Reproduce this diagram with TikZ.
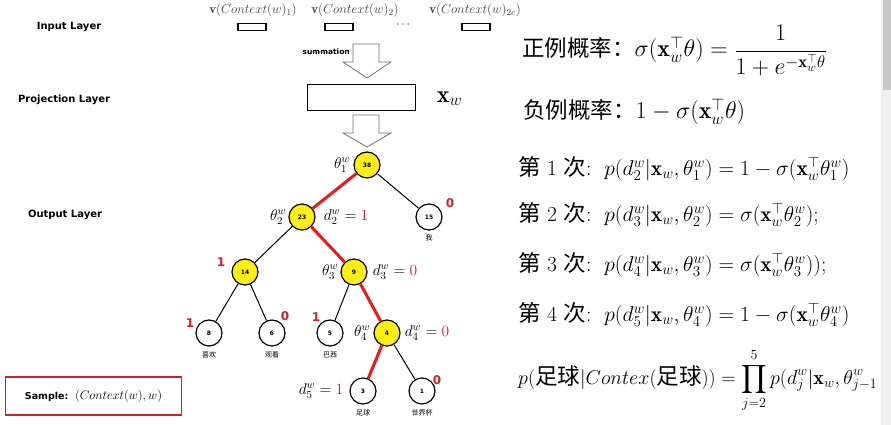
\RequirePackage{fix-cm}
\documentclass[tikz,border=0pt]{standalone}
\usepackage{amsmath,amssymb}
\usepackage{fontspec}
\setsansfont{DejaVu Sans}
\newfontfamily\cjk{Noto Sans CJK SC}
\usetikzlibrary{positioning}
\definecolor{bitred}{RGB}{200,35,45}
\definecolor{pathred}{RGB}{235,25,25}
\definecolor{nodeyellow}{RGB}{255,238,20}
\definecolor{barbg}{RGB}{240,240,240}
\definecolor{barthumb}{RGB}{200,200,200}
\tikzset{
  layer/.style={font=\sffamily\bfseries\fontsize{10}{12}\selectfont, inner sep=0pt},
  inbox/.style={draw, line width=1.6pt, minimum width=28pt, minimum height=7pt, inner sep=0pt},
  ctxlabel/.style={text=black!75, font=\fontsize{13}{15}\selectfont, inner sep=0pt},
  hollow/.style={draw=black!55, line width=0.8pt, line join=miter},
  hidden/.style={circle, draw, line width=1.2pt, fill=nodeyellow, minimum size=26pt, inner sep=0pt, font=\sffamily\bfseries\fontsize{6}{7}\selectfont},
  leaf/.style={hidden, fill=white},
  hit/.style={draw=pathred, line width=3pt},
  miss/.style={draw, line width=1pt},
  bit/.style={text=bitred, font=\sffamily\bfseries\fontsize{12}{14}\selectfont, inner sep=0pt},
  word/.style={font=\cjk\fontsize{7}{8}\selectfont, inner sep=0pt},
  tlab/.style={font=\fontsize{15.5}{17}\selectfont, inner sep=0pt},
  eq/.style={anchor=base west, font=\fontsize{21.5}{24}\selectfont, inner sep=0pt},
  bigeq/.style={eq, font=\fontsize{24}{26}\selectfont}
}
\newcommand{\zh}[1]{{\cjk\fontsize{22.5}{24}\selectfont #1}}

\begin{document}
\begin{tikzpicture}[x=1pt, y=-1pt]
    \useasboundingbox (0,0) rectangle (891,425);
    \fill[white] (0,0) rectangle (891,425);
    % scroll bar
    \fill[barbg] (881,0) rectangle (891,425);
    \fill[barthumb] (883,0) rectangle (891,90);

    % Layer names
    \node [layer] (inlayer) at (69,27) {Input Layer};
    \node [layer] (projlayer) at (64,100) {Projection Layer};
    \node [layer] (outlayer) at (65,215) {Output Layer};

    % Input layer
    \node [inbox] (in1) at (252,27) {};
    \node [inbox] (in2) at (339,27) {};
    \node [inbox] (in3) at (476,27) {};
    \node [font=\fontsize{12}{14}\selectfont] (dots) at (404,25) {$\cdots$};
    \node [ctxlabel] (ctx1) at (253,10) {$\mathbf{v}(Context(w)_1)$};
    \node [ctxlabel] (ctx2) at (355,10) {$\mathbf{v}(Context(w)_2)$};
    \node [ctxlabel] (ctx3) at (475,10) {$\mathbf{v}(Context(w)_{2c})$};

    % Hollow arrows
    \foreach \t/\s/\e in {44/62/78, 115/133/147}
        \draw [hollow] (353,\t) -- (353,\s) -- (343,\s) -- (367,\e) -- (391,\s) -- (379,\s) -- (379,\t) -- cycle;
    \node [font=\sffamily\bfseries\fontsize{7.5}{8}\selectfont, anchor=east, inner sep=0pt] (summ) at (350,52) {summation};

    % Projection layer
    \node [draw, line width=1.8pt, minimum width=108pt, minimum height=26pt, inner sep=0pt] (proj) at (361.5,97.5) {};
    \node [font=\fontsize{24}{26}\selectfont, right=17pt of proj, yshift=-1pt] (xw) {$\mathbf{x}_w$};

    % Huffman tree
    \node [hidden] (n38) at (367,165) {38};
    \node [hidden] (n23) at (302,217) {23};
    \node [leaf] (n15) at (429,217) {15};
    \node [hidden] (n14) at (245,272) {14};
    \node [hidden] (n9) at (354,272) {9};
    \node [leaf] (n8) at (209,333) {8};
    \node [leaf] (n6) at (272,333) {6};
    \node [leaf] (n5) at (330,333) {5};
    \node [hidden] (n4) at (387,333) {4};
    \node [leaf] (n3) at (363,391) {3};
    \node [leaf] (n1) at (422,391) {1};

    \draw [hit] (n38) -- (n23);
    \draw [hit] (n23) -- (n9);
    \draw [hit] (n9) -- (n4);
    \draw [hit] (n4) -- (n3);
    \draw [miss] (n38) -- (n15);
    \draw [miss] (n23) -- (n14);
    \draw [miss] (n14) -- (n8);
    \draw [miss] (n14) -- (n6);
    \draw [miss] (n9) -- (n5);
    \draw [miss] (n4) -- (n1);

    % Words under the leaves
    \node [word, below=4pt of n15] (w15) {我};
    \node [word, below=5pt of n8] (w8) {喜欢};
    \node [word, below=5pt of n6] (w6) {观看};
    \node [word, below=5pt of n5] (w5) {巴西};
    \node [word, below=5pt of n3] (w3) {足球};
    \node [word, below=5pt of n1] (w1) {世界杯};

    % Parameters and codes
    \node [tlab, left=3pt of n38] (th1) {$\theta_1^w$};
    \node [tlab, left=2pt of n23] (th2) {$\theta_2^w$};
    \node [tlab, right=8pt of n23] (d2) {$d_2^w = \textcolor{bitred}{1}$};
    \node [tlab, left=2pt of n9] (th3) {$\theta_3^w$};
    \node [tlab, right=5pt of n9] (d3) {$d_3^w = \textcolor{bitred}{0}$};
    \node [tlab, left=3pt of n4] (th4) {$\theta_4^w$};
    \node [tlab, right=4pt of n4] (d4) {$d_4^w = \textcolor{bitred}{0}$};
    \node [tlab, left=6pt of n3] (d5) {$d_5^w = \textcolor{bitred}{1}$};

    \node [bit] (b15) at (450,203) {0};
    \node [bit] (b14) at (221,262) {1};
    \node [bit] (b8) at (190,323) {1};
    \node [bit] (b6) at (285,316) {0};
    \node [bit] (b5) at (316,317) {1};
    \node [bit] (b1) at (437,380) {0};

    % Sample
    \node [draw=bitred, line width=1.5pt, minimum width=176pt, minimum height=38pt, inner sep=0pt] (sample) at (93.5,396)
        {{\sffamily\bfseries\fontsize{9.5}{11}\selectfont Sample:}\ \ {\fontsize{12.5}{14}\selectfont$(Context(w),w)$}};

    % Formulas
    \node [bigeq] (pos) at (522,57) {\zh{正例概率：}$\sigma(\mathbf{x}_w^{\top}\theta)=\dfrac{1}{1+e^{-\mathbf{x}_w^{\top}\theta}}$};
    \node [bigeq] (neg) at (523,119) {\zh{负例概率：}$1-\sigma(\mathbf{x}_w^{\top}\theta)$};
    \node [eq] (s1) at (518,175) {\zh{第} 1 \zh{次}:\ \ $p(d_2^w|\mathbf{x}_w,\theta_1^w)=1-\sigma(\mathbf{x}_w^{\top}\theta_1^w)$};
    \node [eq] (s2) at (518,221) {\zh{第} 2 \zh{次}:\ \ $p(d_3^w|\mathbf{x}_w,\theta_2^w)=\sigma(\mathbf{x}_w^{\top}\theta_2^w)$;};
    \node [eq] (s3) at (518,271) {\zh{第} 3 \zh{次}:\ \ $p(d_4^w|\mathbf{x}_w,\theta_3^w)=\sigma(\mathbf{x}_w^{\top}\theta_3^w))$;};
    \node [eq] (s4) at (518,321) {\zh{第} 4 \zh{次}:\ \ $p(d_5^w|\mathbf{x}_w,\theta_4^w)=1-\sigma(\mathbf{x}_w^{\top}\theta_4^w)$};
    \node [eq, font=\fontsize{20}{24}\selectfont] (prod) at (518,384) {$p(\text{\zh{足球}}|Contex(\text{\zh{足球}}))=\displaystyle\prod_{j=2}^{5}p(d_j^w|\mathbf{x}_w,\theta_{j-1}^w$};
\end{tikzpicture}
\end{document}
